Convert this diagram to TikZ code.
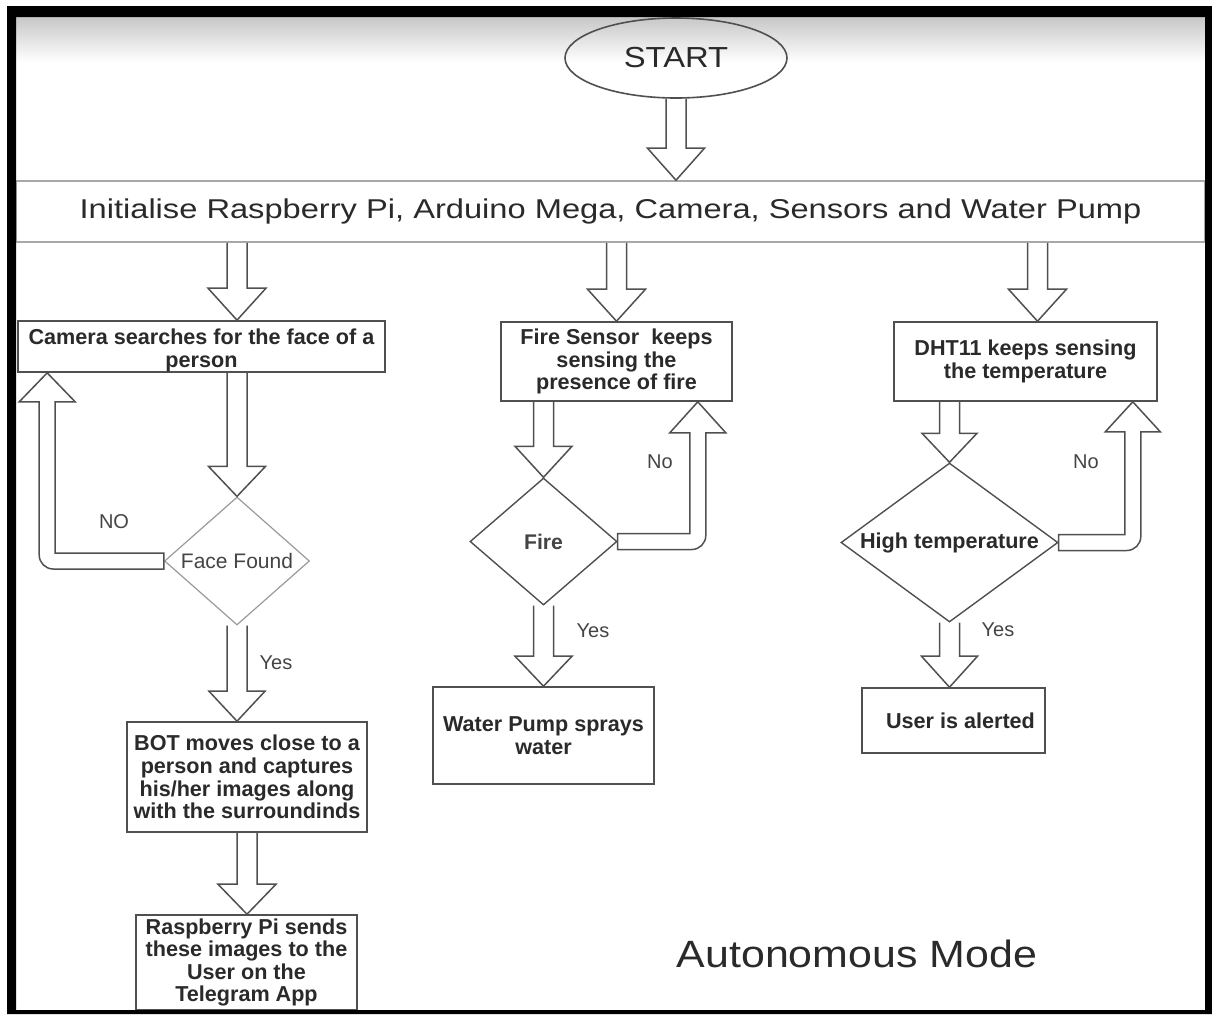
\documentclass[tikz,border=0pt]{standalone}
\usepackage{fontspec}
\setmainfont{Liberation Sans}
\newfontfamily\wideA[FakeStretch=1.2]{Liberation Sans}
\newfontfamily\wideB[FakeStretch=1.13]{Liberation Sans}
\usetikzlibrary{shapes.geometric,calc}
\definecolor{ln}{HTML}{505050}
\definecolor{lnlight}{HTML}{9A9A9A}
\definecolor{initln}{HTML}{A8A8A8}
\definecolor{txt}{HTML}{2A2A2A}
\definecolor{lbltxt}{HTML}{444444}
\newcommand\vArrow[4]{%
  \draw[barrow] let \p1=(#1), \p2=(#2) in
    (\x2-5pt,\y1) -- (\x2-5pt,\y2+#3) -- (\x2-#4,\y2+#3) -- (\x2,\y2)
    -- (\x2+#4,\y2+#3) -- (\x2+5pt,\y2+#3) -- (\x2+5pt,\y1);}
\begin{document}
\begin{tikzpicture}[x=0.5pt,y=-0.5pt,
  box/.style={draw=ln, line width=0.8pt, rectangle, inner sep=0pt, align=center,
    font=\bfseries\fontsize{10.8}{11.3}\selectfont, text=txt},
  dia/.style={diamond, draw=ln, line width=0.7pt, inner sep=0pt},
  barrow/.style={draw=ln, line width=0.75pt, line join=miter},
  lbl/.style={font=\fontsize{10}{12}\selectfont, text=lbltxt, inner sep=0pt}]
\useasboundingbox (0,0) rectangle (1212,1014);
\fill[white] (0,0) rectangle (1212,1014);
\shade[top color=black!22, bottom color=white] (16,17) rectangle (1205,62);

% nodes
\node[ellipse, draw=ln, line width=0.8pt, minimum width=111pt, minimum height=40pt,
  inner sep=0pt, font=\wideB\fontsize{14.5}{16}\selectfont, text=txt] (start) at (676,58) {START};
\node[draw=initln, line width=0.8pt, minimum width=594.5pt, minimum height=30.5pt,
  inner sep=0pt, font=\wideA\fontsize{13.6}{15}\selectfont, text=txt] (init) at (610.5,211.5)
  {Initialise Raspberry Pi, Arduino Mega, Camera, Sensors and Water Pump};

\node[box, minimum width=183.5pt, minimum height=23.5pt] (cam) at (201.5,346.5)
  {\rule{0pt}{12pt}Camera searches for the face of a\\person};
\node[dia, draw=lnlight, line width=0.6pt, minimum width=72.5pt, minimum height=64pt,
  label={[font=\fontsize{10.5}{12}\selectfont, text=lbltxt]center:Face Found}] (face) at (237,561) {};
\node[box, minimum width=120pt, minimum height=55pt] (bot) at (247,777)
  {BOT moves close to a\\person and captures\\his/her images along\\with the surroundinds};
\node[box, minimum width=110.5pt, minimum height=47.5pt] (rpi) at (246.5,962.5)
  {Raspberry Pi sends\\these images to the\\User on the\\Telegram App};

\node[box, minimum width=115.5pt, minimum height=39.5pt] (fire) at (616.5,361.5)
  {Fire Sensor\ \ keeps\\sensing the\\presence of fire};
\node[dia, minimum width=73.5pt, minimum height=63.5pt,
  label={[font=\bfseries\fontsize{10.6}{12}\selectfont, text=lbltxt]center:Fire}] (firedia) at (543.5,541.5) {};
\node[box, minimum width=110.5pt, minimum height=48.5pt] (pump) at (543.5,735.5)
  {Water Pump sprays\\water};

\node[box, minimum width=131.5pt, minimum height=39.5pt] (dht) at (1025.5,361.5)
  {DHT11 keeps sensing\\the temperature};
\node[dia, minimum width=108.5pt, minimum height=79.5pt,
  label={[font=\bfseries\fontsize{10.8}{12}\selectfont, text=txt]center:High temperature}] (hdia) at (949.5,542.5) {};
\node[box, minimum width=91.5pt, minimum height=32.5pt] (user) at (953.5,720.5)
  {\hspace*{7pt}User is alerted};

% labels
\node[lbl] (lno1) at (114,522) {NO};
\node[lbl] (lno2) at (660,462) {No};
\node[lbl] (lno3) at (1086,462) {No};
\node[lbl] (lyes1) at (276,663) {Yes};
\node[lbl] (lyes2) at (593,631) {Yes};
\node[lbl] (lyes3) at (998,630) {Yes};
\node[font=\wideB\fontsize{19}{22}\selectfont, text=txt, inner sep=0pt] (mode) at (857,954) {Autonomous Mode};

% straight block arrows
\vArrow{start.south}{init.north -| start.south}{16pt}{14.25pt}
\vArrow{init.south -| face.north}{cam.north -| face.north}{16pt}{14.5pt}
\vArrow{init.south -| fire.north}{fire.north}{16pt}{14.5pt}
\vArrow{$(init.south -| dht.north)+(12,0)$}{$(dht.north)+(12,0)$}{16pt}{14.5pt}
\vArrow{cam.south -| face.north}{face.north}{15pt}{14.25pt}
\vArrow{face.south}{bot.north -| face.south}{15pt}{14pt}
\vArrow{bot.south}{rpi.north -| bot.south}{15pt}{14.5pt}
\vArrow{fire.south -| firedia.north}{firedia.north}{15.5pt}{14.25pt}
\vArrow{firedia.south}{pump.north -| firedia.south}{15pt}{14.25pt}
\vArrow{dht.south -| hdia.north}{hdia.north}{14.5pt}{13.75pt}
\vArrow{hdia.south}{user.north -| hdia.south}{15.5pt}{14pt}

% loop-back block arrows
\draw[barrow] let \p1=(face.west), \p2=($(cam.south west)+(30,0)$) in
  (\x1,\y1+4pt) -- (\x2+4pt,\y1+4pt) -- (\x2+4pt,\y2-14.5pt) -- (\x2+14pt,\y2-14.5pt)
  -- (\x2,\y2) -- (\x2-14pt,\y2-14.5pt) -- (\x2-4pt,\y2-14.5pt) -- (\x2-4pt,\y1+3pt)
  arc[start angle=180,end angle=270,radius=7pt] -- (\x1,\y1-4pt) -- cycle;
\draw[barrow] let \p1=(firedia.east), \p2=($(fire.south east)+(-35,0)$) in
  (\x1,\y1+4pt) -- (\x2-4pt,\y1+4pt) -- (\x2-4pt,\y2-15.5pt) -- (\x2-14pt,\y2-15.5pt)
  -- (\x2,\y2) -- (\x2+14pt,\y2-15.5pt) -- (\x2+4pt,\y2-15.5pt) -- (\x2+4pt,\y1+3pt)
  arc[start angle=0,end angle=-90,radius=7pt] -- (\x1,\y1-4pt) -- cycle;
\draw[barrow] let \p1=(hdia.east), \p2=($(dht.south east)+(-25,0)$) in
  (\x1,\y1+4pt) -- (\x2-4pt,\y1+4pt) -- (\x2-4pt,\y2-15pt) -- (\x2-13.75pt,\y2-15pt)
  -- (\x2,\y2) -- (\x2+13.75pt,\y2-15pt) -- (\x2+4pt,\y2-15pt) -- (\x2+4pt,\y1+3pt)
  arc[start angle=0,end angle=-90,radius=7pt] -- (\x1,\y1-4pt) -- cycle;

% frame
\fill[black, even odd rule] (7,6) rectangle (1212,1014) (16,17) rectangle (1205,1010);
\end{tikzpicture}
\end{document}
